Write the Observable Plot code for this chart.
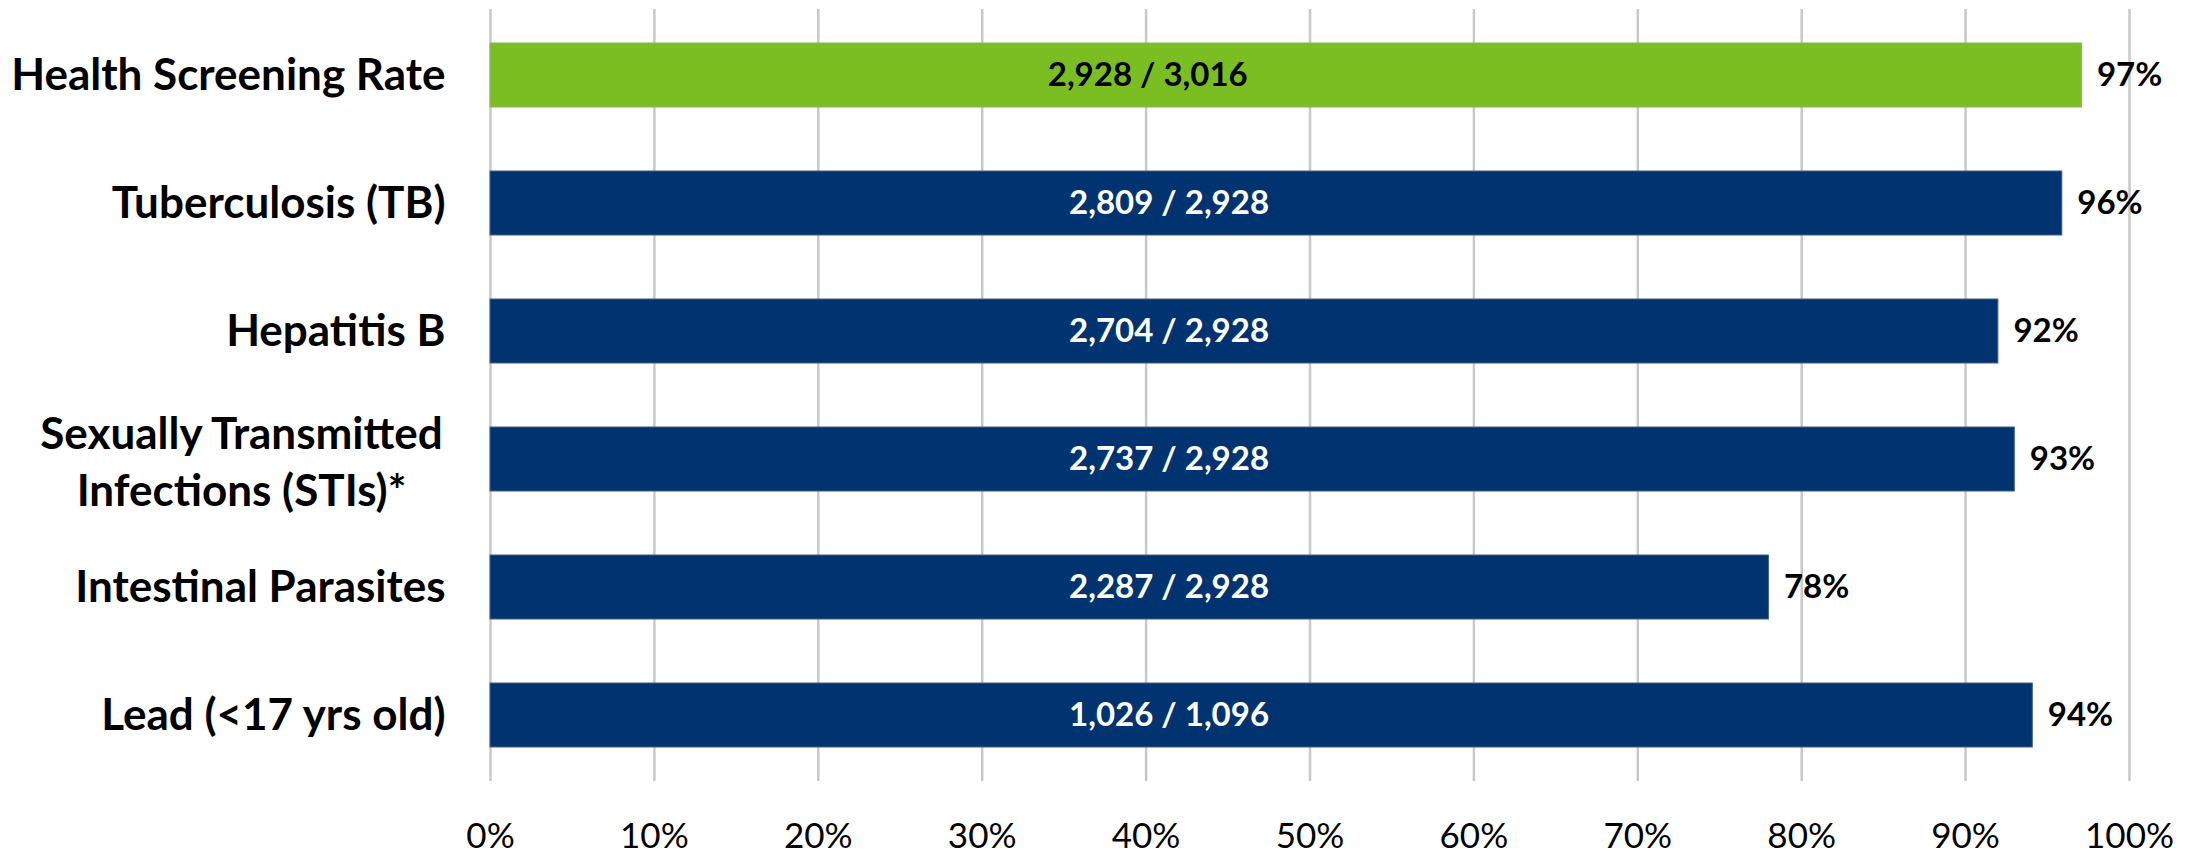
<!DOCTYPE html>
<html>
<head>
<meta charset="utf-8">
<script src="https://cdn.jsdelivr.net/npm/d3@7"></script>
<script src="https://cdn.jsdelivr.net/npm/@observablehq/plot@0.6"></script>
<style>
  html, body { margin: 0; padding: 0; background: #ffffff; }
  #chart svg { display: block; }
</style>
</head>
<body>
<div id="chart"></div>
<script>
// ---- data ----
const categories = [
  "Health Screening Rate",
  "Tuberculosis (TB)",
  "Hepatitis B",
  "Sexually Transmitted\nInfections (STIs)*",
  "Intestinal Parasites",
  "Lead (<17 yrs old)"
];
const numerators   = [2928, 2809, 2704, 2737, 2287, 1026];
const denominators = [3016, 2928, 2928, 2928, 2928, 1096];
// bar lengths
const rates = [0.971, 0.959, 0.920, 0.930, 0.780, 0.941];
const xTicks = [0, 0.1, 0.2, 0.3, 0.4, 0.5, 0.6, 0.7, 0.8, 0.9, 1.0];

// ---- table built from the arrays ----
const rows = categories.map((c, i) => ({
  cat: c,
  idx: i,
  num: numerators[i],
  den: denominators[i],
  rate: rates[i]
}));

const GREEN = "#7abe22";
const NAVY = "#00336f";
const FONT = "Lato, 'Open Sans', sans-serif";
const fmtInt = d3.format(",");
const fmtPct = d3.format(".0%");
const multiLine = categories.filter(c => c.includes("\n"));

const chart = Plot.plot({
  width: 2203,
  height: 855,
  marginLeft: 490,
  marginRight: 74,
  marginTop: 9,
  marginBottom: 74,
  style: { fontFamily: FONT, background: "#ffffff", color: "#000" },
  x: { domain: [0, 1], label: null },
  y: { domain: categories, paddingInner: 0.5, paddingOuter: 0.25, label: null },
  marks: [
    Plot.gridX(xTicks, { stroke: "#c8c8c8", strokeOpacity: 1, strokeWidth: 2.5 }),
    Plot.barX(rows, {
      x: "rate",
      y: "cat",
      fill: d => d.idx === 0 ? GREEN : NAVY,
      stroke: d => d.idx === 0 ? "#8fb060" : "#3f5f8f",
      strokeWidth: 1
    }),
    // fraction labels inside the bars
    Plot.text(rows, {
      x: d => d.idx === 0 ? 0.401 : 0.414,
      y: "cat",
      text: d => `${fmtInt(d.num)} / ${fmtInt(d.den)}`,
      fill: d => d.idx === 0 ? "#000000" : "#ffffff",
      fontSize: 33,
      fontWeight: "bold",
      textAnchor: "middle"
    }),
    // percentage labels at bar end
    Plot.text(rows, {
      x: "rate",
      y: "cat",
      text: d => fmtPct(d.rate),
      fill: "#000000",
      fontSize: 33,
      fontWeight: "bold",
      textAnchor: "start",
      dx: 15
    }),
    Plot.axisX({
      ticks: xTicks,
      tickFormat: fmtPct,
      tickSize: 0,
      tickPadding: 42,
      fontSize: 35,
      fill: "#000000",
      label: null
    }),
    Plot.axisY({
      tickSize: 0,
      tickPadding: 45,
      tickFormat: d => d.includes("\n") ? "" : d,
      fontSize: 44,
      fontWeight: "bold",
      fill: "#000000",
      label: null
    }),
    // two-line category label, lines centred on each other
    Plot.text(multiLine, {
      x: () => 0,
      y: d => d,
      text: d => d,
      textAnchor: "middle",
      dx: -249,
      lineHeight: 1.3,
      fontSize: 44,
      fontWeight: "bold",
      fill: "#000000"
    })
  ]
});

document.getElementById("chart").appendChild(chart);
</script>
</body>
</html>
